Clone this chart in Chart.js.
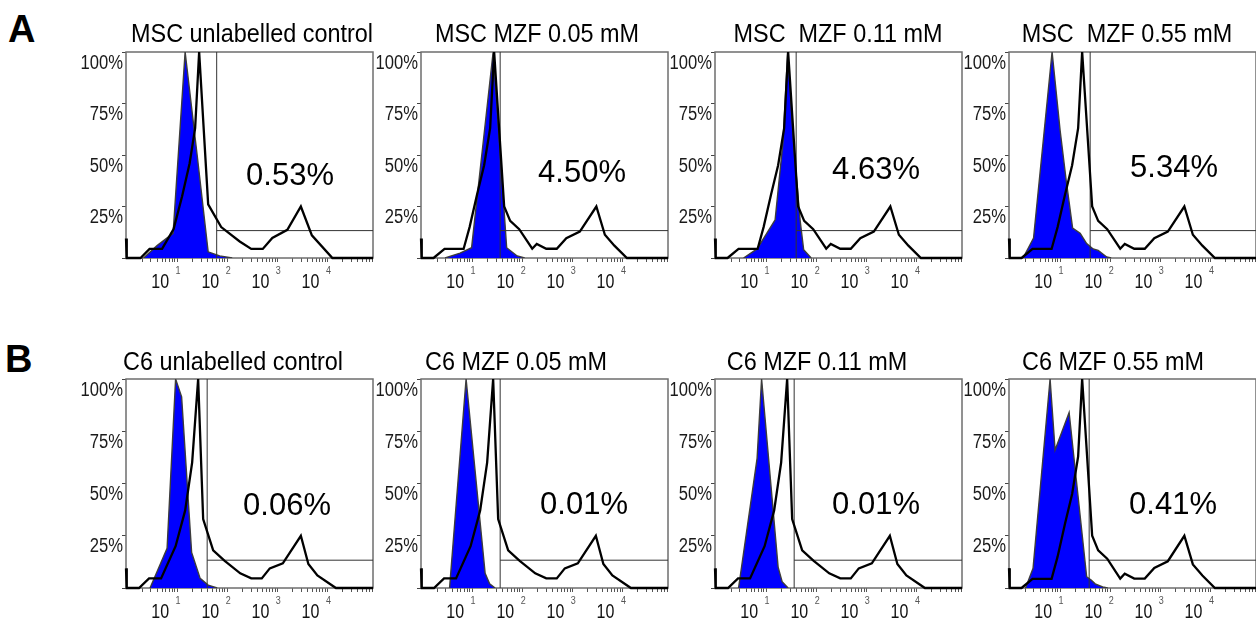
<!DOCTYPE html>
<html lang="en">
<head>
<meta charset="utf-8">
<title>MZF uptake by flow cytometry</title>
<script src="https://cdn.jsdelivr.net/npm/chart.js"></script>
<style>
    body { margin: 0; background: #fff; }
    #figure { position: relative; width: 1256px; height: 623px; overflow: hidden; font-family: 'Liberation Sans', Arial, sans-serif; color: #000; }
    #figure canvas { position: absolute; }
    .label { position: absolute; line-height: 1; white-space: pre; }
    .letter { font-size: 38px; font-weight: bold; }
    .title { font-size: 26px; transform: translateX(-50%) scaleX(0.9); }
    .pct { font-size: 31px; transform: translateX(-50%); }
</style>
</head>
<body>
<div id="figure"></div>
<script>
// histogram vertices: [log10 intensity, % of max]

// labelled reference overlay (black outline)
const labelledCurveA = [[-0.02, 9.5], [-0.005, 0], [0.27, 0], [0.45, 4.4], [0.70, 4.4], [0.93, 14], [1.10, 30], [1.25, 46], [1.36, 63], [1.44, 100], [1.62, 26], [1.88, 15], [2.25, 8], [2.48, 4.4], [2.71, 4.4], [2.90, 9.7], [3.20, 13.7], [3.47, 25], [3.69, 11], [4.10, 0], [4.91, 0]];
const labelledCurveB = [[-0.02, 9.4], [-0.005, 0], [0.24, 0], [0.44, 4.6], [0.68, 4.6], [0.97, 20], [1.16, 37], [1.30, 60], [1.42, 100], [1.52, 33], [1.72, 18], [1.95, 13], [2.26, 7], [2.48, 4.6], [2.69, 4.6], [2.85, 9.4], [3.11, 11.8], [3.47, 25], [3.62, 11.5], [3.80, 6], [4.17, 0], [4.91, 0]];
const labelledCurveNotch = [[-0.02, 9.5], [-0.005, 0], [0.23, 0], [0.45, 4.4], [0.83, 4.4], [0.95, 15], [1.10, 31], [1.24, 45], [1.36, 63], [1.44, 100], [1.64, 25], [1.76, 18], [1.94, 14], [2.20, 4.5], [2.29, 6.8], [2.48, 4.5], [2.69, 4.5], [2.88, 9.6], [3.15, 12.8], [3.48, 25], [3.65, 11.3], [3.84, 6], [4.09, 0], [4.91, 0]];

// sample histograms (blue fill)
const mscControl = [[0.33, 0], [0.60, 6], [0.92, 12], [1.16, 100], [1.40, 50], [1.62, 3], [1.85, 1], [2.10, 0]];
const msc005 = [[0.46, 0], [0.76, 2.4], [0.99, 5], [1.42, 100], [1.69, 5], [1.90, 1], [2.05, 0]];
const msc011 = [[0.55, 0], [0.82, 4.4], [1.18, 18.5], [1.34, 57], [1.43, 100], [1.55, 55], [1.68, 18], [1.75, 4], [1.90, 0]];
const msc055 = [[0.26, 0], [0.47, 9.7], [0.84, 100], [1.00, 62], [1.12, 38], [1.25, 14.5], [1.40, 12], [1.53, 7], [1.66, 4.4], [1.76, 3.7], [1.93, 0.5], [2.02, 0]];
const c6Control = [[0.46, 0], [0.80, 19], [0.97, 100], [1.09, 91.5], [1.29, 17], [1.46, 4.6], [1.62, 1.4], [1.80, 0]];
const c6005 = [[0.55, 0], [0.88, 100], [1.26, 7], [1.35, 2], [1.46, 0]];
const c6011 = [[0.45, 0], [0.82, 62], [0.91, 100], [1.24, 10], [1.32, 3], [1.44, 0]];
const c6055 = [[0.31, 0], [0.46, 9.4], [0.80, 100], [0.90, 66], [1.18, 84], [1.53, 5.4], [1.62, 3.8], [1.70, 2], [1.85, 0.5], [1.95, 0]];

const panelTitles = ['MSC unlabelled control', 'MSC MZF 0.05 mM', 'MSC  MZF 0.11 mM', 'MSC  MZF 0.55 mM',
                     'C6 unlabelled control', 'C6 MZF 0.05 mM', 'C6 MZF 0.11 mM', 'C6 MZF 0.55 mM'];
const positivePercent = ['0.53%', '4.50%', '4.63%', '5.34%', '0.06%', '0.01%', '0.01%', '0.41%'];
const panelSeries = [mscControl, msc005, msc011, msc055, c6Control, c6005, c6011, c6055];
const panelLabelled = [labelledCurveA, labelledCurveNotch, labelledCurveNotch, labelledCurveNotch,
                       labelledCurveB, labelledCurveB, labelledCurveB, labelledCurveNotch];

// marker gate (log10 position) and the level of its horizontal bar (%)
const gateLog = [1.79, 1.56, 1.60, 1.60, 1.60, 1.56, 1.56, 1.58];
const gateLevel = 13.3;

const decades = [1, 2, 3, 4];
const yTickValues = [25, 50, 75, 100];
const xLogMin = -0.02;
const xLogMax = 4.91;

// page layout
const panelLefts = [126, 421, 715, 1009];
const rowTops = [52, 379];
const rowHeights = [206, 209];
const panelWidth = 247;
const titleCentres = [252, 537, 838, 1127, 233, 516, 817, 1113];
const titleBaselines = [42, 42, 42, 42, 370, 370, 370, 370];
const pctCentres = [290, 582, 876, 1174, 287, 584, 876, 1173];
const pctBaselines = [185, 182, 179, 177, 515, 514, 514, 514];

const Y_AXIS_W = 52;
const X_AXIS_H = 36;
const PAD = 6;
const sansFont = "'Liberation Sans', Arial, sans-serif";

const figure = document.getElementById('figure');

// minor tick marks 2..10 in every decade
const minorTicks = [];
for (let k = 0; k <= 4; k++) {
    for (let m = 2; m <= 10; m++) {
        const v = m * Math.pow(10, k);
        if (Math.log10(v) < xLogMax) minorTicks.push(v);
    }
}

// condensed text: the axis labels use a narrow face
function drawNarrow(ctx, text, x, y, size, align, squeeze) {
    ctx.save();
    ctx.translate(x, y);
    ctx.scale(squeeze, 1);
    ctx.font = size + 'px ' + sansFont;
    ctx.textAlign = align;
    ctx.fillText(text, 0, 0);
    ctx.restore();
}

// box round the plot area, under the histograms
const frame = {
    id: 'frame',
    beforeDatasetsDraw(chart) {
        const { ctx, chartArea: a } = chart;
        ctx.save();
        ctx.strokeStyle = '#6e6e6e';
        ctx.lineWidth = 1.5;
        ctx.strokeRect(a.left, a.top, a.right - a.left, a.bottom - a.top);
        ctx.restore();
    }
};

// y labels hang just below their tick; x labels are "10" with a raised exponent
const axisLabels = {
    id: 'axisLabels',
    afterDraw(chart) {
        const { ctx } = chart;
        const x = chart.scales.x;
        const y = chart.scales.y;
        ctx.save();
        ctx.fillStyle = '#1a1a1a';
        ctx.textBaseline = 'middle';
        yTickValues.forEach(v => {
            drawNarrow(ctx, v + '%', y.right - 3, y.getPixelForValue(v) + 11, 20, 'right', 0.83);
        });
        ctx.textBaseline = 'alphabetic';
        decades.forEach(k => {
            const px = x.getPixelForValue(Math.pow(10, k));
            ctx.fillStyle = '#111';
            drawNarrow(ctx, '10', px - 8, x.top + 30, 20, 'right', 0.8);
            ctx.fillStyle = '#555';
            drawNarrow(ctx, String(k), px + 1, x.top + 16, 10, 'center', 0.9);
        });
        ctx.restore();
    }
};

function toPoints(series) {
    return series.map(([e, y]) => ({ x: Math.pow(10, e), y: y }));
}

function addText(cls, text, left, top) {
    const el = document.createElement('div');
    el.className = 'label ' + cls;
    el.textContent = text;
    el.style.left = left + 'px';
    el.style.top = top + 'px';
    figure.appendChild(el);
}

function makePanel(i) {
    const row = Math.floor(i / 4);
    const col = i % 4;
    const canvas = document.createElement('canvas');
    canvas.width = Y_AXIS_W + panelWidth + PAD;
    canvas.height = PAD + rowHeights[row] + X_AXIS_H;
    canvas.style.left = (panelLefts[col] - Y_AXIS_W) + 'px';
    canvas.style.top = (rowTops[row] - PAD) + 'px';
    figure.appendChild(canvas);

    const g = gateLog[i];
    new Chart(canvas, {
        type: 'line',
        data: {
            datasets: [
                { data: toPoints(panelLabelled[i]), borderColor: '#000', borderWidth: 2.3, fill: false, clip: false, order: 1 },
                { data: toPoints([[g, 0], [g, 100]]), borderColor: '#333', borderWidth: 1, fill: false, order: 2 },
                { data: toPoints([[g, gateLevel], [xLogMax, gateLevel]]), borderColor: '#333', borderWidth: 1, fill: false, order: 2 },
                { data: toPoints(panelSeries[i]), borderColor: '#3c3c3c', borderWidth: 1.4, backgroundColor: '#0000ff', fill: 'origin', order: 3 }
            ]
        },
        options: {
            responsive: false,
            animation: false,
            events: [],
            layout: { padding: { top: PAD, right: PAD, left: 0, bottom: 0 } },
            elements: { point: { radius: 0 }, line: { tension: 0 } },
            plugins: { legend: { display: false }, tooltip: { enabled: false } },
            scales: {
                x: {
                    type: 'logarithmic',
                    min: Math.pow(10, xLogMin),
                    max: Math.pow(10, xLogMax),
                    border: { display: false },
                    grid: { drawOnChartArea: false, tickLength: 4, color: '#555' },
                    ticks: { autoSkip: false, maxRotation: 0, callback: () => '' },
                    afterBuildTicks: s => { s.ticks = minorTicks.map(v => ({ value: v })); },
                    afterFit: s => { s.height = X_AXIS_H; s.paddingLeft = 0; s.paddingRight = 0; }
                },
                y: {
                    min: 0,
                    max: 100,
                    border: { display: false },
                    grid: { drawOnChartArea: false, tickLength: 4, color: '#444' },
                    ticks: { stepSize: 25, callback: () => '' },
                    afterFit: s => { s.width = Y_AXIS_W; s.paddingTop = 0; s.paddingBottom = 0; }
                }
            }
        },
        plugins: [frame, axisLabels]
    });
}

panelTitles.forEach((t, i) => makePanel(i));

// panel letters, titles and gated percentages
addText('letter', 'A', 8, 10);
addText('letter', 'B', 5, 340);
panelTitles.forEach((t, i) => {
    addText('title', t, titleCentres[i], titleBaselines[i] - 22);
    addText('pct', positivePercent[i], pctCentres[i], pctBaselines[i] - 26);
});
</script>
</body>
</html>
